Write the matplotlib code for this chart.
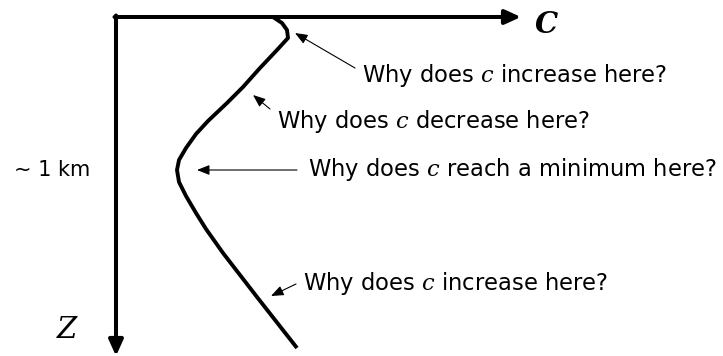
import matplotlib
matplotlib.use("Agg")
import matplotlib.pyplot as plt

# sound speed profile (c to the right, depth z downward)
c_profile = [273, 282, 287, 288, 277, 260, 243, 227, 208, 196, 186, 179, 177,
             179, 186, 196, 206, 223, 257, 297]
z_profile = [17, 23, 30, 38, 50, 68, 87, 103, 121, 134, 148, 160, 170,
             182, 196, 213, 229, 253, 297, 348]

# questions and the point of the curve each one points at
questions = ["Why does $c$ increase here?",
             "Why does $c$ decrease here?",
             "Why does $c$ reach a minimum here?",
             "Why does $c$ increase here?"]
arrow_tips = [(295, 33), (253, 95), (197, 170), (271, 296)]
arrow_tails = [(355, 68), (270, 109), (297, 170), (296, 284)]
text_spots = [(362, 82), (277, 128), (308, 176), (303, 290)]

depth_label = "~ 1 km"

plt.rcParams['mathtext.fontset'] = 'dejavuserif'

fig = plt.figure(figsize=(7.23, 3.56), dpi=100)
ax = fig.add_axes([0, 0, 1, 1])
ax.set_xlim(0, 723)
ax.set_ylim(356, 0)
ax.axis('off')

# axes arrows
axis_arrow = dict(arrowstyle='-|>,head_length=0.95,head_width=0.43',
                  mutation_scale=10, lw=2.9, color='black',
                  shrinkA=0, shrinkB=0)
ax.annotate('', xy=(521, 17), xytext=(114.5, 17), arrowprops=axis_arrow,
            annotation_clip=False)
ax.annotate('', xy=(116, 356), xytext=(116, 15.5), arrowprops=axis_arrow,
            annotation_clip=False)

ax.text(546, 33, 'C', family='DejaVu Serif', style='italic', weight='bold',
        fontsize=21, ha='center', va='baseline')
ax.text(67, 338, 'Z', family='DejaVu Serif', style='italic',
        fontsize=21, ha='center', va='baseline')
ax.text(52, 176, depth_label, fontsize=15, ha='center', va='baseline')

# the profile
ax.plot(c_profile, z_profile, color='black', lw=2.8,
        solid_joinstyle='round', solid_capstyle='butt')

# questions with thin arrows
thin_arrow = dict(arrowstyle='-|>,head_length=0.75,head_width=0.3',
                  mutation_scale=10, lw=0.8, color='black',
                  shrinkA=0, shrinkB=0)
for q, tip, tail, spot in zip(questions, arrow_tips, arrow_tails, text_spots):
    ax.annotate('', xy=tip, xytext=tail, arrowprops=thin_arrow)
    ax.text(spot[0], spot[1], q, fontsize=16.3, ha='left', va='baseline')

fig.savefig('out.png', dpi=100)
